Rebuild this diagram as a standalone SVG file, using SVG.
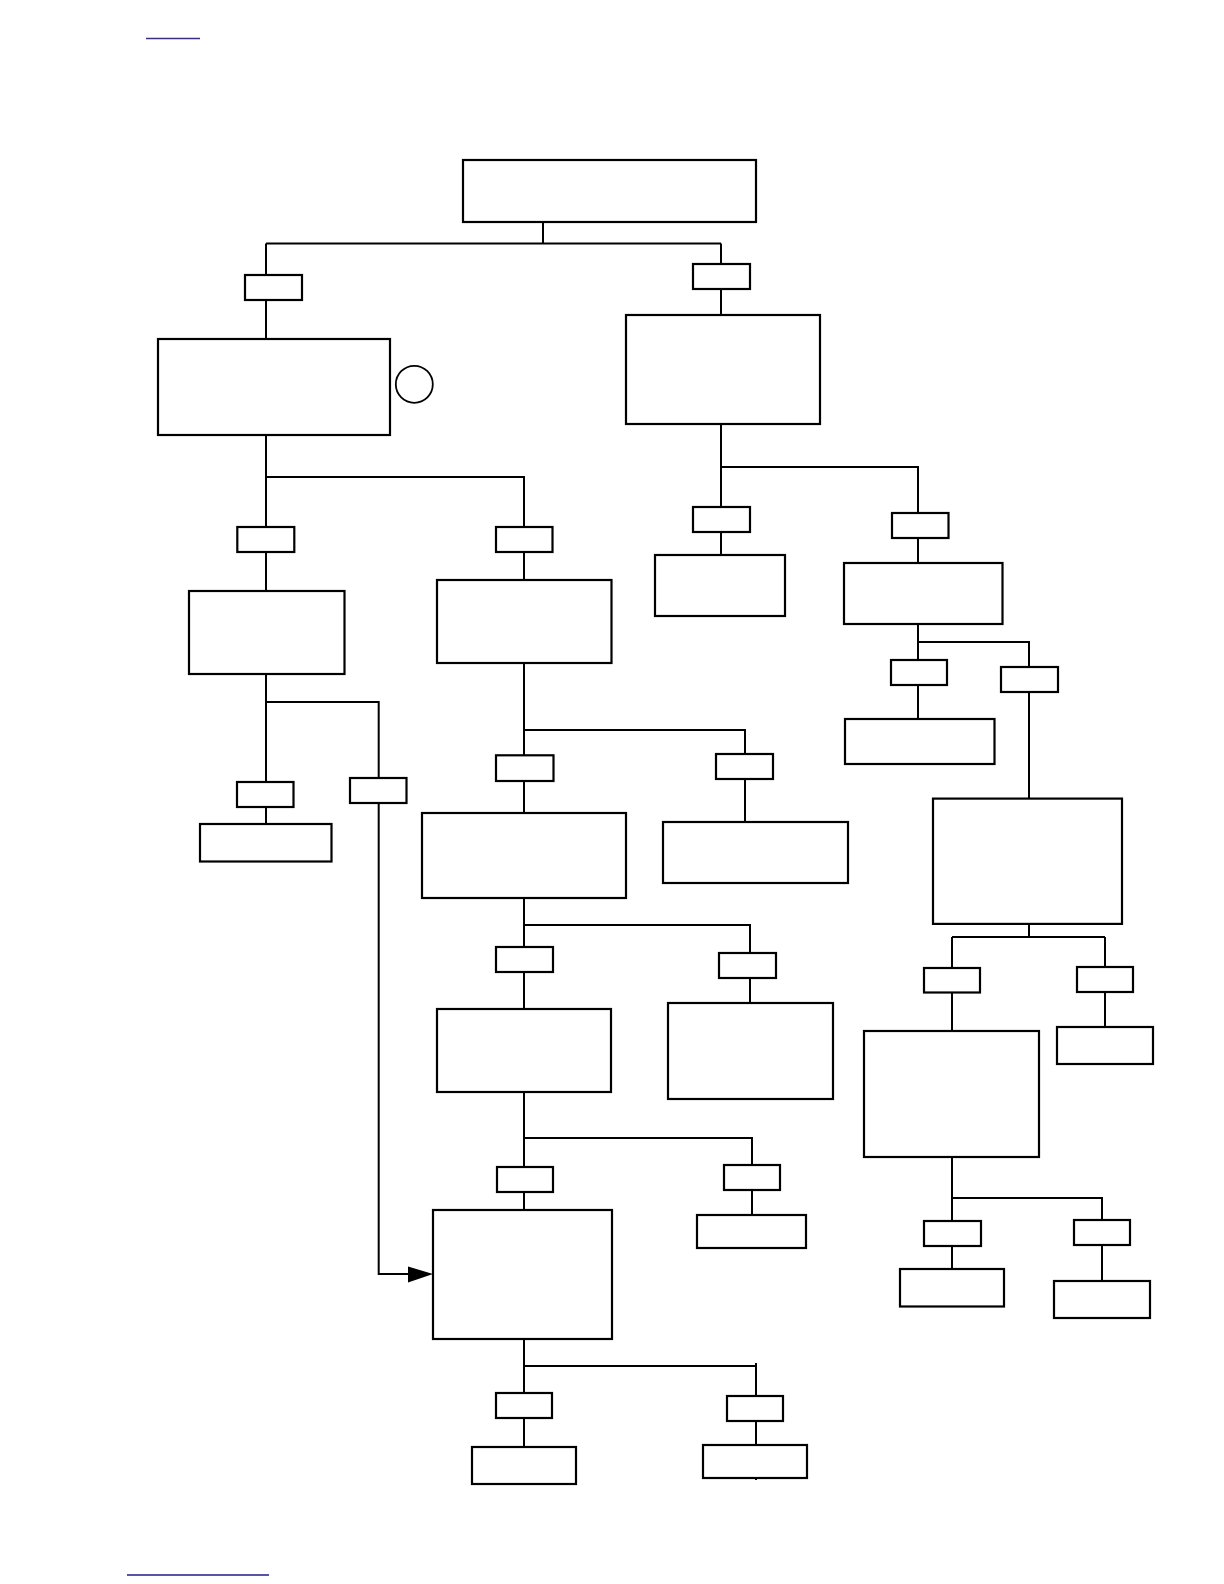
<svg xmlns="http://www.w3.org/2000/svg" width="1224" height="1584" viewBox="0 0 1224 1584">
<style>
.b{fill:#fff;stroke:#000;stroke-width:2.2}
.c{fill:none;stroke:#000;stroke-width:2}
</style>
<rect x="0" y="0" width="1224" height="1584" fill="#fff"/>
<line x1="146" y1="38.5" x2="200" y2="38.5" stroke="#3b2f7f" stroke-width="1.5"/>
<line x1="127" y1="1575" x2="269" y2="1575" stroke="#1c1c8c" stroke-width="1.5"/>
<g id="connectors" class="c">
<path d="M543 222V243.5M266 243.5H721M266 243.5V339M721 243.5V315"/>
<path d="M266 435V591M266 477H524V580"/>
<path d="M721 424V555M721 467H918V563"/>
<path d="M266 674V824M266 702H378.7V1274H410"/>
<polygon points="408,1266.5 433,1274 408,1282.5" fill="#000" stroke="none"/>
<path d="M524 663V813M524 730H745V822"/>
<path d="M918 624V719M918 642H1029V799"/>
<path d="M524 898V1009M524 925H750V1003"/>
<path d="M1029 924V937M952 937H1105M952 937V1031M1105 937V1027"/>
<path d="M524 1092V1210M524 1138H752V1215"/>
<path d="M952 1157V1269M952 1198H1102V1281"/>
<path d="M524 1339V1447M524 1366H756M756 1363V1480"/>
</g>
<g id="n1"><rect class="b" x="463" y="160" width="293" height="62"/></g>
<g id="t1"><rect class="b" x="245" y="275" width="57" height="25"/></g>
<g id="t2"><rect class="b" x="693" y="264" width="57" height="25"/></g>
<g id="n2"><rect class="b" x="158" y="339" width="232" height="96"/></g>
<g id="c1"><circle cx="414.3" cy="384.3" r="18.5" fill="#fff" stroke="#000" stroke-width="1.8"/></g>
<g id="n3"><rect class="b" x="626" y="315" width="194" height="109"/></g>
<g id="t3"><rect class="b" x="237.3" y="527" width="57" height="25"/></g>
<g id="t4"><rect class="b" x="496" y="527" width="56.5" height="25"/></g>
<g id="n4"><rect class="b" x="189" y="591" width="155.5" height="83"/></g>
<g id="n5"><rect class="b" x="437" y="580" width="174.5" height="83"/></g>
<g id="t5"><rect class="b" x="693" y="507" width="57" height="25"/></g>
<g id="t6"><rect class="b" x="892" y="513" width="56.5" height="25"/></g>
<g id="n6"><rect class="b" x="655" y="555" width="130" height="61"/></g>
<g id="n7"><rect class="b" x="844" y="563" width="158.5" height="61"/></g>
<g id="t7"><rect class="b" x="891" y="660" width="56" height="25"/></g>
<g id="t8"><rect class="b" x="1001" y="667" width="57" height="25"/></g>
<g id="n8"><rect class="b" x="845" y="719" width="149.5" height="45"/></g>
<g id="n9"><rect class="b" x="933" y="798.6" width="189" height="125.3"/></g>
<g id="t9"><rect class="b" x="237" y="782" width="56.5" height="25"/></g>
<g id="t10"><rect class="b" x="350" y="778" width="56.5" height="25"/></g>
<g id="n10"><rect class="b" x="200" y="824" width="131.5" height="37.5"/></g>
<g id="t11"><rect class="b" x="496" y="755.3" width="57.5" height="25.7"/></g>
<g id="t12"><rect class="b" x="716" y="754" width="57" height="25"/></g>
<g id="n11"><rect class="b" x="422" y="813" width="204" height="85"/></g>
<g id="n12"><rect class="b" x="663" y="822" width="185" height="61"/></g>
<g id="t13"><rect class="b" x="496" y="947" width="57" height="25"/></g>
<g id="t14"><rect class="b" x="719" y="953" width="57" height="25"/></g>
<g id="n13"><rect class="b" x="437" y="1009" width="174" height="83"/></g>
<g id="n14"><rect class="b" x="668" y="1003" width="165" height="96"/></g>
<g id="t15"><rect class="b" x="924" y="968" width="56" height="24.5"/></g>
<g id="t16"><rect class="b" x="1077" y="967" width="56" height="25"/></g>
<g id="n15"><rect class="b" x="864" y="1031" width="175" height="126"/></g>
<g id="n16"><rect class="b" x="1057" y="1027" width="96" height="37"/></g>
<g id="t17"><rect class="b" x="497" y="1167" width="56" height="25"/></g>
<g id="t18"><rect class="b" x="724" y="1165" width="56" height="25"/></g>
<g id="n17"><rect class="b" x="433" y="1210" width="179" height="129"/></g>
<g id="n18"><rect class="b" x="697" y="1215" width="109" height="33"/></g>
<g id="t19"><rect class="b" x="924" y="1221" width="57" height="25"/></g>
<g id="t20"><rect class="b" x="1074" y="1220" width="56" height="25"/></g>
<g id="n19"><rect class="b" x="900" y="1269" width="104" height="37.5"/></g>
<g id="n20"><rect class="b" x="1054" y="1281" width="96" height="37"/></g>
<g id="t21"><rect class="b" x="496" y="1393" width="56" height="25"/></g>
<g id="t22"><rect class="b" x="727" y="1396" width="56" height="25"/></g>
<g id="n21"><rect class="b" x="472" y="1447" width="104" height="37"/></g>
<g id="n22"><rect class="b" x="703" y="1445" width="104" height="33"/></g>
</svg>
